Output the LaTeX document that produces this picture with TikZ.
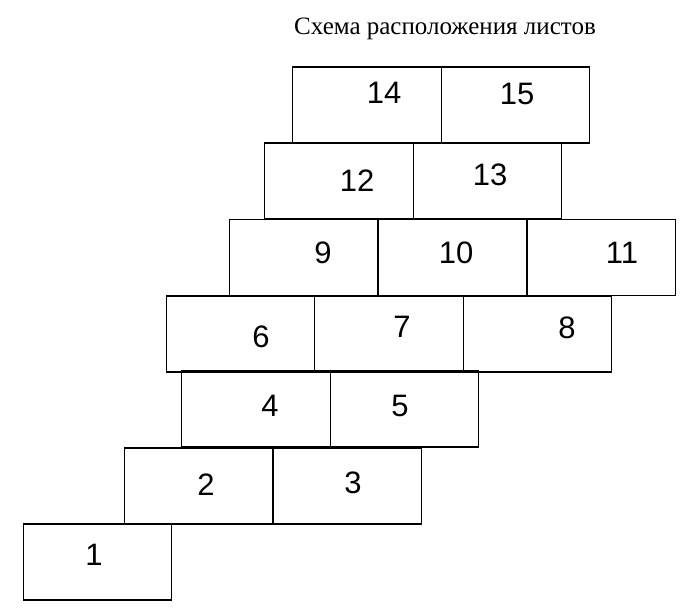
\documentclass[tikz,border=0pt]{standalone}
\usepackage{fontspec}
\setmainfont{Liberation Serif}
\newfontfamily\digitfont{Liberation Sans}
\begin{document}
\begin{tikzpicture}[x=1pt,y=1pt,sheet/.style={draw,line width=1.3pt,minimum width=148.5pt,minimum height=76pt,inner sep=0pt},num/.style={font=\digitfont\fontsize{31}{31}\selectfont,inner sep=0pt}]
\useasboundingbox (0,0) rectangle (684,608);
\node[font=\fontsize{25}{30}\selectfont,inner sep=0pt] (title) at (445,579) {Схема расположения листов};
% sheets: number / centre / label position
\foreach \n/\x/\y/\lx/\ly in {1/97.5/46/94/53,2/198.75/122/206/123,3/347/122/353/125,
  4/256/199/270/202,5/404.5/199/400/202,6/240.5/274/261/271,7/389/274/402/281,8/537.5/274/567/280,
  9/303.5/350.5/323/355,10/452.5/350.5/456/355,11/601.5/350.5/622/355,
  12/339/427/357/427,13/487.5/427/490/433,14/367/503/384/515,15/515.5/503/517/514}
{\node[sheet] (b\n) at (\x,\y) {};
 \node[num] (t\n) at (\lx,\ly) {\n};}
\end{tikzpicture}
\end{document}
